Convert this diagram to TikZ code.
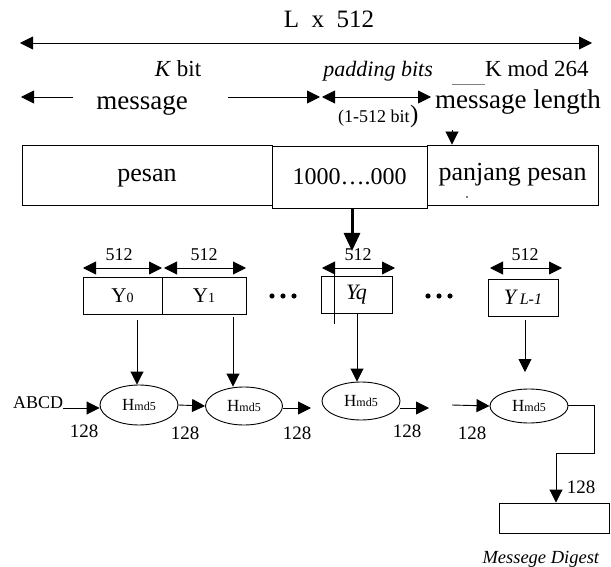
\documentclass[tikz,border=0pt]{standalone}
\usepackage{fontspec}
\setmainfont{Liberation Serif}
\usetikzlibrary{arrows.meta,shapes.geometric}
\newcommand{\fs}[1]{\fontsize{#1}{#1}\selectfont}
\newcommand{\hmdlabel}{{\fs{17}H}{\fs{12}md5}}
\tikzset{
  tip/.style={line width=0.9pt,-{Triangle[length=13pt,width=13pt]}},
  dtip/.style={line width=0.9pt,{Triangle[length=13pt,width=13pt]}-{Triangle[length=13pt,width=13pt]}},
  thin/.style={line width=0.9pt},
  blk/.style={draw,line width=0.9pt,inner sep=0pt},
  hash/.style={draw,ellipse,line width=0.9pt,inner sep=0pt},
  txt/.style={inner sep=0pt,anchor=base},
}
\begin{document}
\begin{tikzpicture}[x=1pt,y=-1pt]
\useasboundingbox[fill=white] (0,0) rectangle (611,567);

% top texts
\node[txt] (lx) at (329,28) {\fs{25}L\ \ x\ \ 512};
\coordinate (la) at (20,43);
\coordinate (ra) at (592,43);
\draw[dtip] (la) -- (ra);

\node[txt] (kbit) at (178,77) {\fs{23}\textit{K} bit};
\node[txt,anchor=base east] (pad) at (433,77) {\fs{22}\textit{padding bits}};
\node[txt,anchor=base west] (kmod) at (485,77) {\fs{23}K mod 264};
\coordinate (ul1) at (452,84);
\coordinate (ul2) at (485,84);
\draw[line width=0.6pt,gray] (ul1) -- (ul2);

\node[txt] (msg) at (142,110) {\fs{27}message};
\coordinate (m1) at (73,97);
\coordinate (m0) at (21,97);
\draw[tip] (m1) -- (m0);
\coordinate (m2) at (228,97);
\coordinate (m3) at (320,97);
\draw[tip] (m2) -- (m3);
\coordinate (p1) at (322,97);
\coordinate (p2) at (431,97);
\draw[dtip] (p1) -- (p2);
\node[txt,anchor=base west] (mlen) at (435,109) {\fs{27}message length};
\node[txt,anchor=base west] (range) at (338,123) {\fs{18}(1-512 bit};
\node[txt,anchor=base west] (rpar) at (range.base east) {\fs{25})};

% padded message boxes
\node[blk,minimum width=250pt,minimum height=60pt] (pesan) at (147,175) {};
\node[blk,minimum width=155pt,minimum height=62pt] (pad1) at (349.5,177) {};
\node[blk,minimum width=171pt,minimum height=60pt] (pjg) at (512.5,175) {};
\node[txt] (tpesan) at (pesan.center) [yshift=-7pt] {\fs{26}pesan};
\node[txt] (tpad) at (pad1.center) [yshift=-8pt] {\fs{24}1000….000};
\node[txt] (tpjg) at (pjg.center) [yshift=-6pt] {\fs{26}panjang pesan};
\fill (467,197) circle (0.9pt);
\coordinate (tri) at (452,130);
\draw[tip] (tri) -- (tri |- pjg.north);
\coordinate (thk) at (352,251);
\draw[line width=3pt,-{Triangle[length=18pt,width=16pt]}] (pad1.south -| thk) -- (thk);

% Y blocks
\node[blk,minimum width=79pt,minimum height=37pt] (y0) at (122.5,295.5) {{\fs{21}Y}{\fs{14}0}};
\node[blk,minimum width=84pt,minimum height=37pt] (y1) at (204,295.5) {{\fs{21}Y}{\fs{14}1}};
\node[blk,minimum width=71pt,minimum height=37pt] (yq) at (356.5,295) {\fs{22}\textit{Yq}};
\node[blk,minimum width=70pt,minimum height=37pt] (yl) at (523,297.5) {{\fs{22}\textit{Y}}\,{\fs{16}\textit{L-1}}};

\node[txt] (l0) at (119,261) {\fs{18}512};
\node[txt] (l1) at (204,261) {\fs{18}512};
\node[txt] (lq) at (358,261) {\fs{18}512};
\node[txt] (ll) at (525,261) {\fs{18}512};
\coordinate (a0) at (83,268); \coordinate (b0) at (162,268);
\coordinate (a1) at (164,268); \coordinate (b1) at (246,268);
\coordinate (aq) at (322,268); \coordinate (bq) at (395,268);
\coordinate (al) at (490,268); \coordinate (bl) at (562,268);
\draw[dtip] (a0) -- (b0);
\draw[dtip] (a1) -- (b1);
\draw[dtip] (aq) -- (bq);
\draw[dtip] (al) -- (bl);
\coordinate (vq1) at (334,268);
\coordinate (vq2) at (334,324);
\draw[thin] (vq1) -- (vq2);

\foreach \x in {272,283,294,428,439,450} \fill (\x,296) circle (2.6pt);

% hash nodes
\node[hash,minimum width=78pt,minimum height=40pt] (h1) at (139,405) {\hmdlabel};
\node[hash,minimum width=77pt,minimum height=38pt] (h2) at (244,406) {\hmdlabel};
\node[hash,minimum width=78pt,minimum height=38pt] (h3) at (361,401) {\hmdlabel};
\node[hash,minimum width=78pt,minimum height=34pt] (h4) at (529,406) {\hmdlabel};

\coordinate (d0) at (137,320);
\coordinate (d1) at (233,317);
\coordinate (dq) at (357,313);
\coordinate (dl) at (525,320);
\draw[tip] (d0) -- (d0 |- h1.north);
\draw[tip] (d1) -- (d1 |- h2.north);
\draw[tip] (dq) -- (dq |- h3.north);
\coordinate (dle) at (525,372);
\draw[tip] (dl) -- (dle);

\node[txt,anchor=base west] (abcd) at (13,408) {\fs{18}ABCD};
\draw[tip] (abcd.base east) ++(0,0) coordinate (ab1) -- (ab1 -| h1.west);
\draw[tip] (h1.east) -- (h2.west);
\coordinate (o2) at (311,408);
\draw[tip] (h2.east |- o2) -- (o2);
\coordinate (o3) at (429,408);
\draw[tip] (h3.east |- o3) -- (o3);
\coordinate (i4) at (452,405);
\draw[tip] (i4) -- (h4.west);

\node[txt] (n1) at (84,437) {\fs{19}128};
\node[txt] (n2) at (185,439) {\fs{19}128};
\node[txt] (n3) at (297,439) {\fs{19}128};
\node[txt] (n4) at (407,437) {\fs{19}128};
\node[txt] (n5) at (472,439) {\fs{19}128};
\node[txt] (n6) at (581,493) {\fs{19}128};

% output
\node[blk,minimum width=110pt,minimum height=30pt] (md) at (554,518) {};
\coordinate (c1) at (594,405);
\coordinate (c2) at (594,453);
\coordinate (c3) at (556,453);
\draw[thin] (h4.east |- c1) -- (c1) -- (c2) -- (c3);
\draw[tip] (c3) -- (c3 |- md.north);
\node[txt] (mdl) at (541,563) {\fs{18.5}\textit{Messege Digest}};
\end{tikzpicture}
\end{document}
